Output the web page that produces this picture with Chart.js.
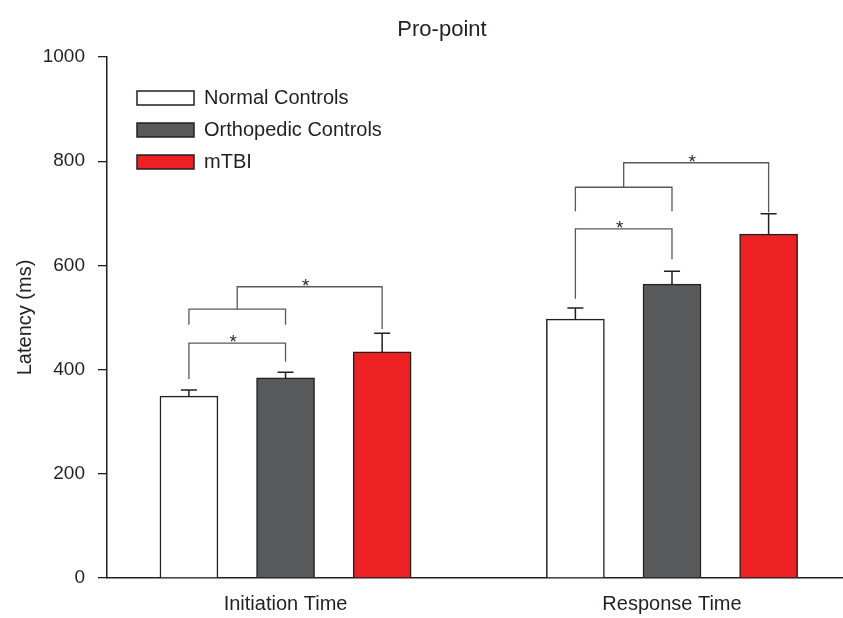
<!DOCTYPE html>
<html>
<head>
<meta charset="utf-8">
<script src="https://cdn.jsdelivr.net/npm/chart.js@4/dist/chart.umd.min.js"></script>
<style>
    html, body { margin: 0; padding: 0; background: #fff; }
    #wrap { width: 843px; height: 618px; }
</style>
</head>
<body>
<div id="wrap"><canvas id="latencyChart" width="843" height="618"></canvas></div>
<script>
// Data (ms)
const categories = ['Initiation Time', 'Response Time'];
const groups = ['Normal Controls', 'Orthopedic Controls', 'mTBI'];
const normalMean = [349, 497];
const normalSem = [12, 21];
const orthoMean = [384, 564];
const orthoSem = [11, 25];
const mtbiMean = [434, 660];
const mtbiSem = [36, 39];
const yTicks = [0, 200, 400, 600, 800, 1000];

// Significance brackets, one entry per category (ms)
const pairLineY = [451, 670];
const pairLegLeft = [382, 536];
const pairLegRight = [415, 612];
const controlsLineY = [516, 750];
const controlsLegs = [486, 704];
const topLineY = [559, 797];
const topLegRight = [478, 702];

const colors = ['#ffffff', '#58595b', '#ed2024'];
const means = [normalMean, orthoMean, mtbiMean];
const sems = [normalSem, orthoSem, mtbiSem];

// bar slot on the x axis: 3 bars per category, one empty slot between
function slot(cat, grp) {
    return cat * 4 + grp + 1;
}
const labelSlots = categories.map((c, i) => slot(i, 1));

Chart.defaults.font.family = '"Liberation Sans", Arial, sans-serif';
Chart.defaults.color = '#231f20';

const datasets = groups.map((g, gi) => ({
    label: g,
    data: categories.map((c, ci) => ({ x: slot(ci, gi), y: means[gi][ci] })),
    backgroundColor: colors[gi],
    borderColor: '#231f20',
    borderWidth: 1.5,
    barThickness: 58,
    grouped: false
}));

// error bars (upward only) and the significance brackets
const annotations = {
    id: 'annotations',
    afterDatasetsDraw(chart) {
        const ctx = chart.ctx;
        const xs = chart.scales.x;
        const ys = chart.scales.y;
        ctx.save();

        ctx.strokeStyle = '#231f20';
        ctx.lineWidth = 1.5;
        groups.forEach((g, gi) => {
            categories.forEach((c, ci) => {
                const x = xs.getPixelForValue(slot(ci, gi));
                const yTop = ys.getPixelForValue(means[gi][ci]);
                const yErr = ys.getPixelForValue(means[gi][ci] + sems[gi][ci]);
                ctx.beginPath();
                ctx.moveTo(x, yTop);
                ctx.lineTo(x, yErr);
                ctx.moveTo(x - 8, yErr);
                ctx.lineTo(x + 8, yErr);
                ctx.stroke();
            });
        });

        ctx.strokeStyle = '#58595b';
        ctx.lineWidth = 1.3;
        ctx.fillStyle = '#231f20';
        ctx.font = '19px "Liberation Sans", Arial, sans-serif';
        ctx.textAlign = 'center';
        ctx.textBaseline = 'alphabetic';
        const py = v => ys.getPixelForValue(v);

        categories.forEach((c, ci) => {
            const xN = xs.getPixelForValue(slot(ci, 0));
            const xO = xs.getPixelForValue(slot(ci, 1));
            const xT = xs.getPixelForValue(slot(ci, 2));
            const xm = (xN + xO) / 2;

            // normal vs orthopedic
            ctx.beginPath();
            ctx.moveTo(xN, py(pairLegLeft[ci]));
            ctx.lineTo(xN, py(pairLineY[ci]));
            ctx.lineTo(xO, py(pairLineY[ci]));
            ctx.lineTo(xO, py(pairLegRight[ci]));
            ctx.stroke();
            ctx.fillText('*', xm - 4, py(pairLineY[ci]) + 5);

            // both controls vs mTBI
            ctx.beginPath();
            ctx.moveTo(xN, py(controlsLegs[ci]));
            ctx.lineTo(xN, py(controlsLineY[ci]));
            ctx.lineTo(xO, py(controlsLineY[ci]));
            ctx.lineTo(xO, py(controlsLegs[ci]));
            ctx.moveTo(xm, py(controlsLineY[ci]));
            ctx.lineTo(xm, py(topLineY[ci]));
            ctx.lineTo(xT, py(topLineY[ci]));
            ctx.lineTo(xT, py(topLegRight[ci]));
            ctx.stroke();
            ctx.fillText('*', (xm + xT) / 2 - 4, py(topLineY[ci]) + 5);
        });

        // chart title
        ctx.font = '22px "Liberation Sans", Arial, sans-serif';
        ctx.textBaseline = 'middle';
        ctx.fillText('Pro-point', 442, 30);
        ctx.restore();
    }
};

// move the legend into the upper left of the plot
const legendPlace = {
    id: 'legendPlace',
    afterLayout(chart) {
        const lg = chart.legend;
        const area = chart.chartArea;
        if (!lg) return;
        lg.left = area.left + 18;
        lg.top = area.top + 19;
        lg.right = lg.left + lg.width;
        lg.bottom = lg.top + lg.height;
    }
};

const ctx = document.getElementById('latencyChart').getContext('2d');
const latencyChart = new Chart(ctx, {
    type: 'bar',
    data: { datasets: datasets },
    plugins: [annotations, legendPlace],
    options: {
        responsive: false,
        animation: false,
        layout: { padding: { top: 57, right: 0, bottom: 0, left: 0 } },
        plugins: {
            title: { display: false },
            tooltip: { enabled: false },
            legend: {
                position: 'chartArea',
                align: 'start',
                labels: {
                    boxWidth: 57,
                    boxHeight: 14,
                    padding: 12,
                    color: '#231f20',
                    font: { size: 20 }
                }
            }
        },
        scales: {
            x: {
                type: 'linear',
                min: 0.152,
                max: 7.77,
                offset: false,
                grid: { display: false, drawTicks: false },
                border: { display: true, color: '#231f20', width: 1.5 },
                afterFit(scale) { scale.height = 40; },
                afterBuildTicks(scale) {
                    scale.ticks = labelSlots.map(v => ({ value: v }));
                },
                ticks: {
                    padding: 14,
                    autoSkip: false,
                    maxRotation: 0,
                    color: '#231f20',
                    font: { size: 20 },
                    callback: value => categories[labelSlots.indexOf(value)]
                }
            },
            y: {
                min: 0,
                max: 1000,
                afterFit(scale) { scale.width = 107; },
                afterBuildTicks(scale) {
                    scale.ticks = yTicks.map(v => ({ value: v }));
                },
                grid: {
                    drawOnChartArea: false,
                    drawTicks: true,
                    tickLength: 9,
                    color: '#231f20',
                    lineWidth: 1.3
                },
                border: { display: true, color: '#231f20', width: 1.5 },
                ticks: {
                    padding: 13,
                    color: '#231f20',
                    font: { size: 19 },
                    callback: value => String(value)
                },
                title: {
                    display: true,
                    text: 'Latency (ms)',
                    color: '#231f20',
                    font: { size: 20 },
                    padding: { top: 13, bottom: 0 }
                }
            }
        }
    }
});
</script>
</body>
</html>
